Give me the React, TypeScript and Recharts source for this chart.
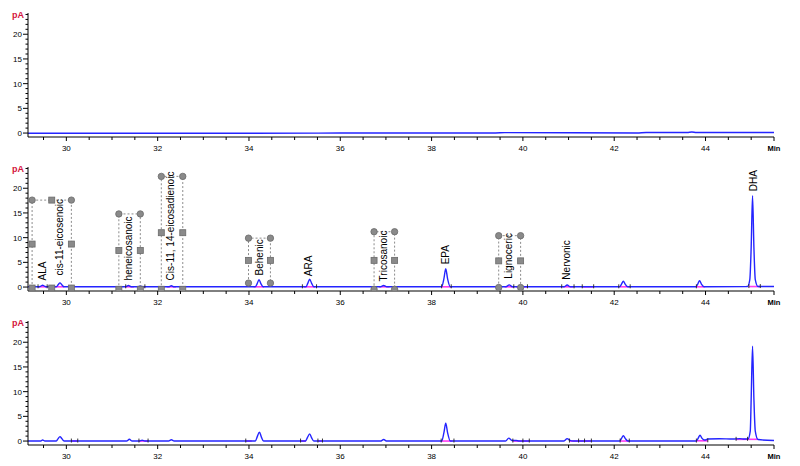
import React from 'react';
import { ComposedChart, Line, Scatter, XAxis, YAxis } from 'recharts';

// ---------- axis values ----------
const xDomain = [29.16, 45.5];
const yDomain = [-0.8, 24.3];
const xTicks = [29.5, 30, 30.5, 31, 31.5, 32, 32.5, 33, 33.5, 34, 34.5, 35, 35.5, 36, 36.5, 37, 37.5, 38, 38.5, 39, 39.5, 40, 40.5, 41, 41.5, 42, 42.5, 43, 43.5, 44, 44.5, 45, 45.5];
const xLabelTicks = [30, 32, 34, 36, 38, 40, 42, 44];
const yTicks = [0, 1, 2, 3, 4, 5, 6, 7, 8, 9, 10, 11, 12, 13, 14, 15, 16, 17, 18, 19, 20, 21, 22, 23, 24];
const yLabelTicks = [0, 5, 10, 15, 20];

// ---------- traces (time, signal) ----------
const topTrace = [
  [29.16, -0.05], [33, -0.05], [36, 0], [39.4, 0.02], [39.6, 0.08], [42.5, 0.02], [42.7, 0.1],
  [43.6, 0.1], [43.7, 0.2], [43.8, 0.1], [45.5, 0.12],
];

const midTrace = [
  [29.16, 0.05], [29.4, 0.05], [29.44, 0.2], [29.48, 0.35], [29.52, 0.2], [29.56, 0.05],
  [29.78, 0.05], [29.82, 0.45], [29.86, 0.85], [29.9, 0.45], [29.95, 0.05],
  [31.3, 0.05], [31.36, 0.3], [31.42, 0.05],
  [31.56, 0.05], [31.62, 0.2], [31.68, 0.05],
  [32.24, 0.05], [32.3, 0.25], [32.36, 0.05],
  [34.14, 0.05], [34.18, 0.7], [34.22, 1.5], [34.26, 0.7], [34.31, 0.05],
  [35.25, 0.05], [35.29, 0.8], [35.33, 1.6], [35.37, 0.8], [35.42, 0.05],
  [36.88, 0.05], [36.95, 0.3], [37.02, 0.05],
  [38.22, 0.05], [38.27, 1.7], [38.31, 3.7], [38.35, 1.7], [38.41, 0.05],
  [39.63, 0.05], [39.7, 0.45], [39.77, 0.05],
  [40.9, 0.05], [40.97, 0.4], [41.04, 0.05],
  [42.12, 0.05], [42.16, 0.6], [42.2, 1.2], [42.24, 0.6], [42.3, 0.05],
  [43.79, 0.05], [43.83, 0.6], [43.87, 1.3], [43.91, 0.6], [43.97, 0.05],
  [44.92, 0.1], [44.97, 1.5], [45.0, 8], [45.03, 18.5], [45.06, 8], [45.09, 1.5], [45.15, 0.1], [45.5, 0.1],
];

const bottomTrace = [
  [29.16, 0], [29.44, 0], [29.48, 0.22], [29.53, 0],
  [29.78, 0], [29.82, 0.5], [29.86, 0.9], [29.9, 0.5], [29.95, 0],
  [31.32, 0], [31.38, 0.35], [31.44, 0],
  [31.6, 0], [31.66, 0.15], [31.72, 0],
  [32.24, 0], [32.3, 0.25], [32.36, 0],
  [34.14, 0], [34.18, 0.85], [34.23, 1.8], [34.27, 0.85], [34.32, 0],
  [35.24, 0], [35.28, 0.7], [35.33, 1.45], [35.37, 0.7], [35.42, 0],
  [36.88, 0], [36.95, 0.3], [37.02, 0],
  [38.22, 0], [38.27, 1.7], [38.31, 3.6], [38.35, 1.7], [38.41, 0],
  [39.62, 0], [39.69, 0.6], [39.76, 0.1], [39.85, 0.12], [39.92, 0],
  [40.9, 0], [40.97, 0.5], [41.02, 0.2], [41.1, 0],
  [42.12, 0], [42.16, 0.55], [42.2, 1.1], [42.24, 0.55], [42.3, 0],
  [43.8, 0], [43.84, 0.6], [43.88, 1.2], [43.92, 0.6], [43.98, 0.2], [44.05, 0.4], [44.3, 0.48],
  [44.6, 0.4], [44.75, 0.5], [44.85, 0.4], [44.93, 0.4], [44.98, 2], [45.0, 8.5], [45.03, 19.2],
  [45.06, 8.5], [45.09, 2], [45.15, 0.3], [45.5, 0.1],
];

// ---------- integration baselines (start, end, level) ----------
const midBaselines = [
  [29.38, 29.58, 0.05], [29.75, 29.95, 0.05], [31.3, 31.48, 0.05], [31.55, 31.72, 0.05],
  [32.2, 32.4, 0.05], [34.1, 34.33, 0.05], [35.2, 35.45, 0.05], [36.85, 37.08, 0.05],
  [38.22, 38.43, 0.05], [39.6, 39.8, 0.05], [39.85, 40.1, 0.05], [40.88, 41.1, 0.05],
  [41.3, 41.55, 0.05], [42.12, 42.33, 0.05], [43.8, 43.98, 0.05], [44.95, 45.2, 0.1],
];
const bottomBaselines = [
  [30.11, 30.25, 0], [31.59, 31.79, 0], [33.93, 34.06, 0], [35.13, 35.25, 0], [35.51, 35.61, 0],
  [38.21, 38.46, 0], [39.78, 40.14, 0], [41.02, 41.5, 0], [42.13, 42.33, 0], [43.8, 44.05, 0.05],
  [44.67, 45.14, 0.35],
];

// ---------- integration marks (time, level) ----------
const midMarks = [
  [29.38, 0.05], [29.58, 0.05], [31.3, 0.05], [31.72, 0.05], [35.17, 0.05], [35.48, 0.05],
  [38.22, 0.05], [38.43, 0.05], [39.8, 0.05], [40.1, 0.05], [40.85, 0.05], [41.12, 0.05],
  [41.3, 0.05], [41.55, 0.05], [42.1, 0.05], [42.35, 0.05], [43.8, 0.05], [44.95, 0.1], [45.2, 0.1],
];
const bottomMarks = [
  [30.11, 0], [30.25, 0], [31.59, 0], [31.79, 0], [33.93, 0], [35.13, 0], [35.51, 0], [35.61, 0],
  [38.21, 0], [38.49, 0], [39.78, 0], [40.0, 0], [40.14, 0], [41.02, 0], [41.22, 0], [41.35, 0],
  [41.5, 0], [42.13, 0], [42.33, 0], [43.8, 0], [44.05, 0.05], [44.67, 0.35], [44.92, 0.35],
];

// ---------- timed event windows: left, right, top, middle, bottom, top shape, bottom shape, centre ----------
const eventWindows = [
  [29.25, 30.11, 17.6, 8.7, -0.2, 'c', 's', 29.68],
  [31.15, 31.62, 14.8, 7.4, -0.45, 'c', 's', null],
  [32.08, 32.55, 22.4, 11.0, -0.45, 'c', 's', null],
  [33.99, 34.47, 9.9, 5.4, 0.8, 'c', 'c', null],
  [36.74, 37.19, 11.2, 5.4, -0.45, 'c', 'c', null],
  [39.47, 39.95, 10.4, 5.3, -0.1, 'c', 'c', null],
];

// ---------- peak names (name, time, label foot) ----------
const peakNames = ['ALA', 'cis-11-eicosenoic', 'heneicosanoic', 'Cis-11, 14-eicosadienoic', 'Behenic', 'ARA', 'Tricosanoic', 'EPA', 'Lignoceric', 'Nervonic', 'DHA'];
const peakTimes = [29.47, 29.86, 31.37, 32.28, 34.22, 35.3, 36.95, 38.31, 39.69, 40.96, 45.05];
const peakLabelFoot = [1.35, 2.35, 1.35, 1.35, 2.35, 2.2, 1.15, 4.6, 1.7, 1.5, 19.4];

// ---------- build tables ----------
const toPts = (arr) => arr.map(([x, y]) => ({ x, y }));

const eventMarkers = [];
const eventPaths = [];
eventWindows.forEach(([l, r, t, m, b, ts, bs, c]) => {
  eventPaths.push([{ x: l, y: b }, { x: l, y: t }, { x: r, y: t }, { x: r, y: b }]);
  eventMarkers.push({ x: l, y: t, m: ts }, { x: r, y: t, m: ts });
  eventMarkers.push({ x: l, y: m, m: 's' }, { x: r, y: m, m: 's' });
  eventMarkers.push({ x: l, y: b, m: bs }, { x: r, y: b, m: bs });
  if (c !== null) {
    eventMarkers.push({ x: c, y: t, m: 's' }, { x: c, y: b, m: 's' });
  }
});
const labelData = peakNames.map((name, i) => ({ x: peakTimes[i], y: peakLabelFoot[i], name }));

// ---------- renderers ----------
const FONT = 'Arial, "Liberation Sans", sans-serif';

const YTick = (props) => {
  const { x, y, payload } = props;
  const v = payload.value;
  const major = yLabelTicks.includes(v);
  return (
    <g>
      <line x1={x - (major ? 5 : 2.5)} x2={x} y1={y} y2={y} stroke="#000" strokeWidth={1} />
      {major && (
        <text x={x - 6} y={y + 3} textAnchor="end" fontSize={8} fill="#000" fontFamily={FONT}>{v}</text>
      )}
      {v === 24 && (
        <text x={x - 4} y={y + 4} textAnchor="end" fontSize={9} fontWeight="bold" fill="#d4143c" fontFamily={FONT}>pA</text>
      )}
    </g>
  );
};

const XTick = (props) => {
  const { x, y, payload } = props;
  const v = payload.value;
  const major = xLabelTicks.includes(v);
  const last = v === 45.5;
  return (
    <g>
      <line x1={x} x2={x} y1={y} y2={y + (major || last ? 4 : 3)} stroke="#000" strokeWidth={1} />
      {major && (
        <text x={x} y={y + 14} textAnchor="middle" fontSize={8} fill="#000" fontFamily={FONT}>{v}</text>
      )}
      {last && (
        <text x={x} y={y + 14} textAnchor="middle" fontSize={7.5} fontWeight="bold" fill="#000" fontFamily={FONT}>Min</text>
      )}
    </g>
  );
};

const EventMarker = (props) => {
  const { cx, cy, payload } = props;
  if (cx == null || cy == null) return <g />;
  if (payload.m === 'c') {
    return <circle cx={cx} cy={cy} r={3.2} fill="#8a8a8a" stroke="#6a6a6a" strokeWidth={0.8} />;
  }
  return <rect x={cx - 3} y={cy - 3} width={6} height={6} fill="#8a8a8a" stroke="#6a6a6a" strokeWidth={0.8} />;
};

const PeakLabel = (props) => {
  const { cx, cy, payload } = props;
  if (cx == null || cy == null) return <g />;
  return (
    <text
      x={cx}
      y={cy}
      transform={`rotate(-90 ${cx} ${cy})`}
      textAnchor="start"
      dominantBaseline="central"
      fontSize={10}
      fill="#000"
      fontFamily={FONT}
    >
      {payload.name}
    </text>
  );
};

const IntMark = (props) => {
  const { cx, cy } = props;
  if (cx == null || cy == null) return <g />;
  return <line x1={cx} x2={cx} y1={cy - 2.5} y2={cy + 1.5} stroke="#222" strokeWidth={0.9} />;
};

const BLUE = '#2424ff';
const PINK = '#ff3cf0';

function Panel({ trace, baselines, marks, showEvents, showLabels, top, id }) {
  return (
    <div style={{ position: 'absolute', left: 0, top, width: 800, height: 154 }}>
      <ComposedChart width={800} height={154} margin={{ top: 13, right: 26, bottom: 0, left: 0 }} style={{ fontFamily: FONT }}>
        <XAxis
          type="number"
          dataKey="x"
          domain={xDomain}
          ticks={xTicks}
          interval={0}
          allowDataOverflow
          height={17}
          tickSize={0}
          tickMargin={0}
          axisLine={{ stroke: '#000', strokeWidth: 1 }}
          tickLine={false}
          tick={<XTick />}
        />
        <YAxis
          type="number"
          domain={yDomain}
          ticks={yTicks}
          interval={0}
          allowDataOverflow
          width={28}
          tickSize={0}
          tickMargin={0}
          axisLine={{ stroke: '#000', strokeWidth: 1 }}
          tickLine={false}
          tick={<YTick />}
        />
        {baselines.map(([a, b, lv], i) => (
          <Line
            key={`${id}-bl-${i}`}
            data={[{ x: a, y: lv }, { x: b, y: lv }]}
            dataKey="y"
            type="linear"
            stroke={PINK}
            strokeWidth={1.6}
            dot={false}
            isAnimationActive={false}
          />
        ))}
        <Line
          data={toPts(trace)}
          dataKey="y"
          type="monotone"
          stroke={BLUE}
          strokeWidth={1.4}
          dot={false}
          isAnimationActive={false}
        />
        {marks.length > 0 && (
          <Scatter data={toPts(marks)} dataKey="y" shape={<IntMark />} isAnimationActive={false} />
        )}
        {showEvents &&
          eventPaths.map((p, i) => (
            <Line
              key={`${id}-ev-${i}`}
              data={p}
              dataKey="y"
              type="linear"
              stroke="#8c8c8c"
              strokeWidth={1}
              strokeDasharray="2 2"
              dot={false}
              isAnimationActive={false}
            />
          ))}
        {showEvents && (
          <Scatter data={eventMarkers} dataKey="y" shape={<EventMarker />} isAnimationActive={false} />
        )}
        {showLabels && (
          <Scatter data={labelData} dataKey="y" shape={<PeakLabel />} isAnimationActive={false} />
        )}
      </ComposedChart>
    </div>
  );
}

export default function App() {
  return (
    <div style={{ position: 'absolute', left: 0, top: 0, width: 800, height: 466, background: '#fff', overflow: 'hidden' }}>
      <Panel id="p1" top={0} trace={topTrace} baselines={[]} marks={[]} showEvents={false} showLabels={false} />
      <Panel id="p2" top={154} trace={midTrace} baselines={midBaselines} marks={midMarks} showEvents showLabels />
      <Panel id="p3" top={308} trace={bottomTrace} baselines={bottomBaselines} marks={bottomMarks} showEvents={false} showLabels={false} />
    </div>
  );
}
